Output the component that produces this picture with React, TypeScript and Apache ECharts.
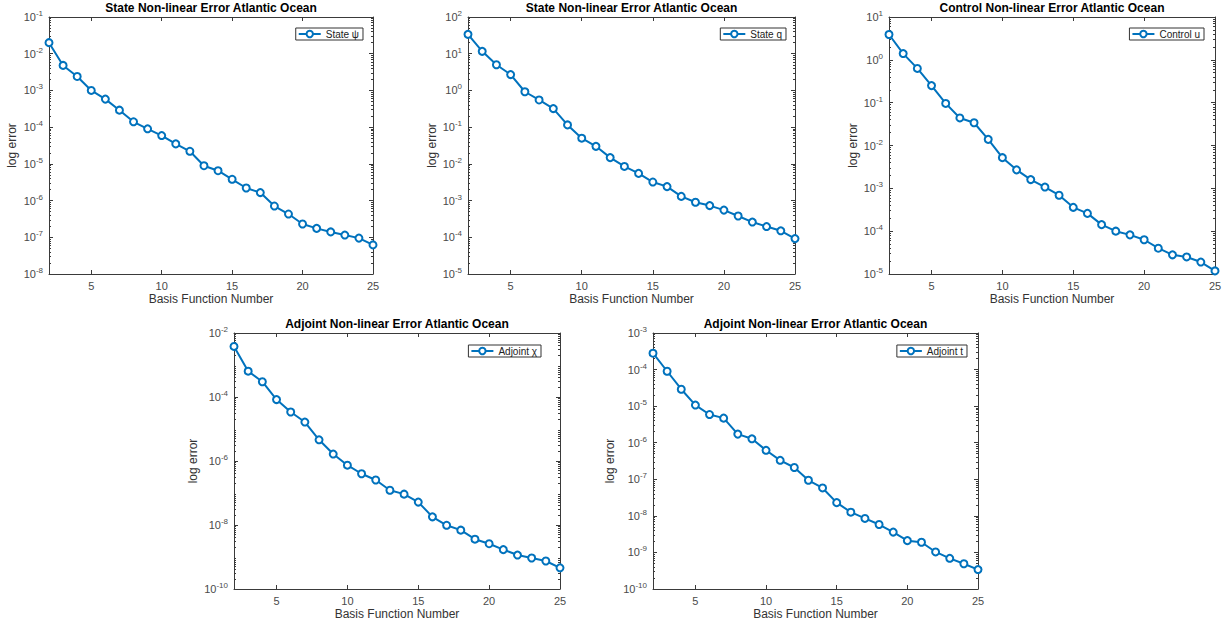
import React, { useEffect, useRef } from 'react';
import * as echarts from 'echarts';

const FONT = '"Liberation Sans", Arial, Helvetica, sans-serif';

// ---- data ----
const basisNumbers = [2, 3, 4, 5, 6, 7, 8, 9, 10, 11, 12, 13, 14, 15, 16, 17, 18, 19, 20, 21, 22, 23, 24, 25];

const statePsiError = [2.0e-2, 4.8e-3, 2.4e-3, 1.0e-3, 5.8e-4, 2.9e-4, 1.4e-4, 9.0e-5, 5.9e-5, 3.5e-5, 2.2e-5, 8.9e-6, 6.5e-6, 3.8e-6, 2.2e-6, 1.65e-6, 7.1e-7, 4.3e-7, 2.3e-7, 1.75e-7, 1.4e-7, 1.15e-7, 9.5e-8, 6.2e-8];
const stateQError = [33.7, 11.6, 5.0, 2.7, 0.92, 0.55, 0.32, 0.115, 0.05, 0.03, 0.0148, 8.5e-3, 5.5e-3, 3.2e-3, 2.4e-3, 1.3e-3, 9.0e-4, 7.3e-4, 5.5e-4, 3.8e-4, 2.6e-4, 1.96e-4, 1.5e-4, 9.2e-5];
const controlUError = [3.9, 1.4, 0.63, 0.25, 0.096, 0.044, 0.034, 0.0139, 5.2e-3, 2.7e-3, 1.6e-3, 1.07e-3, 6.9e-4, 3.6e-4, 2.6e-4, 1.42e-4, 1.0e-4, 8.2e-5, 6.3e-5, 4.0e-5, 2.8e-5, 2.5e-5, 1.9e-5, 1.18e-5];
const adjointChiError = [3.8e-3, 6.4e-4, 3.0e-4, 8.3e-5, 3.4e-5, 1.65e-5, 4.6e-6, 1.65e-6, 7.4e-7, 4.0e-7, 2.55e-7, 1.22e-7, 9.2e-8, 5.2e-8, 1.8e-8, 9.8e-9, 6.9e-9, 3.6e-9, 2.6e-9, 1.7e-9, 1.15e-9, 9.3e-10, 7.5e-10, 4.6e-10];
const adjointTError = [2.8e-4, 9.0e-5, 2.9e-5, 1.07e-5, 5.9e-6, 4.7e-6, 1.72e-6, 1.28e-6, 6.2e-7, 3.3e-7, 2.1e-7, 9.4e-8, 5.8e-8, 2.3e-8, 1.26e-8, 8.5e-9, 5.8e-9, 3.6e-9, 2.1e-9, 1.9e-9, 1.03e-9, 6.9e-10, 4.9e-10, 3.4e-10];

const xTickLabels = [5, 10, 15, 20, 25];
const statePsiExps = [-8, -7, -6, -5, -4, -3, -2, -1];
const stateQExps = [-5, -4, -3, -2, -1, 0, 1, 2];
const controlUExps = [-5, -4, -3, -2, -1, 0, 1];
const adjointChiExps = [-10, -8, -6, -4, -2];
const adjointTExps = [-10, -9, -8, -7, -6, -5, -4, -3];

const titleState = 'State Non-linear Error Atlantic Ocean';
const titleControl = 'Control Non-linear Error Atlantic Ocean';
const titleAdjoint = 'Adjoint Non-linear Error Atlantic Ocean';
const xName = 'Basis Function Number';
const yName = 'log error';

const LINE_COLOR = '#0072BD';
const AXIS_COLOR = '#3a3a3a';
const LABEL_COLOR = '#4a4a4a';

const panels = [
  { title: titleState, name: 'State ψ', values: statePsiError, exps: statePsiExps, grid: { left: 49, top: 17, width: 324, height: 257 }, legendRight: 865, legendTop: 28, yGap: 31 },
  { title: titleState, name: 'State q', values: stateQError, exps: stateQExps, grid: { left: 468, top: 17, width: 327, height: 257 }, legendRight: 442, legendTop: 28, yGap: 30 },
  { title: titleControl, name: 'Control u', values: controlUError, exps: controlUExps, grid: { left: 889, top: 17, width: 326, height: 257 }, legendRight: 24, legendTop: 28, yGap: 30 },
  { title: titleAdjoint, name: 'Adjoint χ', values: adjointChiError, exps: adjointChiExps, grid: { left: 234, top: 333, width: 326, height: 256 }, legendRight: 687, legendTop: 345, yGap: 35 },
  { title: titleAdjoint, name: 'Adjoint t', values: adjointTError, exps: adjointTExps, grid: { left: 653, top: 333, width: 325, height: 256 }, legendRight: 261, legendTop: 345, yGap: 37 },
];

function minorValues(minExp: number, maxExp: number) {
  const out: number[] = [];
  for (let e = minExp; e < maxExp; e++) {
    for (let k = 2; k <= 9; k++) out.push(Number((k * Math.pow(10, e)).toPrecision(3)));
  }
  return out;
}

function buildOption() {
  const grid: any[] = [];
  const xAxis: any[] = [];
  const yAxis: any[] = [];
  const series: any[] = [];
  const legend: any[] = [];
  const graphic: any[] = [];

  panels.forEach((p, i) => {
    grid.push({ ...p.grid, containLabel: false });
    const minExp = p.exps[0];
    const maxExp = p.exps[p.exps.length - 1];
    const majors = p.exps.map((e) => Math.pow(10, e));
    const minors = minorValues(minExp, maxExp);

    const xBase = {
      type: 'value', gridIndex: i, min: 2, max: 25,
      axisLine: { show: true, lineStyle: { color: AXIS_COLOR, width: 1 } },
      axisTick: { show: true, inside: true, length: 4, customValues: xTickLabels, lineStyle: { color: AXIS_COLOR } },
      splitLine: { show: false },
    };
    xAxis.push({
      ...xBase, position: 'bottom',
      axisLabel: { show: true, customValues: xTickLabels, color: LABEL_COLOR, fontSize: 11, fontFamily: FONT, margin: 6 },
      name: xName, nameLocation: 'middle', nameGap: 19,
      nameTextStyle: { color: '#333', fontSize: 12, fontFamily: FONT },
    });
    xAxis.push({ ...xBase, position: 'top', axisLabel: { show: false } });

    const yBase = {
      type: 'log', logBase: 10, gridIndex: i, min: Math.pow(10, minExp), max: Math.pow(10, maxExp),
      splitLine: { show: false },
    };
    const ySeriesIndex = yAxis.length;
    yAxis.push({
      ...yBase, position: 'left',
      axisLine: { show: true, lineStyle: { color: AXIS_COLOR, width: 1 } },
      axisTick: { show: true, inside: true, length: 4, customValues: majors, lineStyle: { color: AXIS_COLOR } },
      axisLabel: {
        show: true, customValues: majors, margin: 6,
        formatter: (v: number) => `{b|10}{s|${Math.round(Math.log10(v))}}`,
        rich: {
          b: { fontSize: 11, color: LABEL_COLOR, fontFamily: FONT },
          s: { fontSize: 8, color: LABEL_COLOR, fontFamily: FONT, verticalAlign: 'bottom', padding: [0, 0, 7, 0] },
        },
      },
      name: yName, nameLocation: 'middle', nameGap: p.yGap,
      nameTextStyle: { color: '#333', fontSize: 12, fontFamily: FONT },
    });
    yAxis.push({
      ...yBase, position: 'right',
      axisLine: { show: true, lineStyle: { color: AXIS_COLOR, width: 1 } },
      axisTick: { show: true, inside: true, length: 4, customValues: majors, lineStyle: { color: AXIS_COLOR } },
      axisLabel: { show: false },
    });
    yAxis.push({
      ...yBase, position: 'left',
      axisLine: { show: false },
      axisTick: { show: true, inside: true, length: 2, customValues: minors, lineStyle: { color: AXIS_COLOR } },
      axisLabel: { show: false },
    });
    yAxis.push({
      ...yBase, position: 'right',
      axisLine: { show: false },
      axisTick: { show: true, inside: true, length: 2, customValues: minors, lineStyle: { color: AXIS_COLOR } },
      axisLabel: { show: false },
    });

    series.push({
      type: 'line', name: p.name, xAxisIndex: i * 2, yAxisIndex: ySeriesIndex,
      data: basisNumbers.map((x, k) => [x, p.values[k]]),
      symbol: 'emptyCircle', symbolSize: 7,
      lineStyle: { color: LINE_COLOR, width: 2 },
      itemStyle: { color: LINE_COLOR, borderWidth: 1.6 },
      z: 3,
    });

    legend.push({
      data: [p.name], right: p.legendRight, top: p.legendTop, orient: 'horizontal',
      backgroundColor: '#fff', borderColor: '#333', borderWidth: 1, borderRadius: 0,
      padding: [1, 4, 1, 2], itemWidth: 22, itemHeight: 8, itemGap: 0,
      textStyle: { fontSize: 10, color: '#222', fontFamily: FONT },
    });

    graphic.push({
      type: 'text', x: p.grid.left + p.grid.width / 2, y: p.grid.top - 15,
      style: { text: p.title, textAlign: 'center', textVerticalAlign: 'top', fill: '#000', font: `bold 12px ${FONT}` },
    });
  });

  return { animation: false, backgroundColor: '#fff', grid, xAxis, yAxis, series, legend, graphic };
}

export default function App() {
  const ref = useRef<HTMLDivElement>(null);
  useEffect(() => {
    if (!ref.current) return;
    const chart = echarts.init(ref.current, undefined, { renderer: 'svg' });
    chart.setOption(buildOption() as any);
    return () => chart.dispose();
  }, []);
  return <div ref={ref} style={{ position: 'fixed', left: 0, top: 0, width: 1228, height: 625 }} />;
}
